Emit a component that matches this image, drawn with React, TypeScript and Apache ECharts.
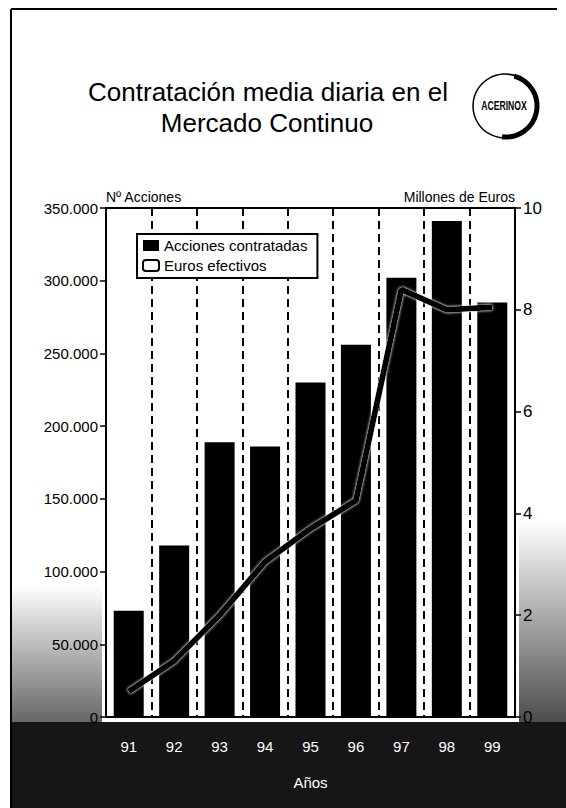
import React, { useEffect, useRef } from "react";
import * as echarts from "echarts";

const years = ["91", "92", "93", "94", "95", "96", "97", "98", "99"];
const accionesContratadas = [73000, 118000, 189000, 186000, 230000, 256000, 302000, 341000, 285000];
const eurosEfectivos = [0.5, 1.1, 2.0, 3.05, 3.7, 4.25, 8.4, 8.0, 8.05];
const leftMax = 350000;
const leftStep = 50000;
const rightMax = 10;
const rightStep = 2;
const titleLines = ["Contratación media diaria en el", "Mercado Continuo"];
const logoText = "ACERINOX";

const FONT = "'Liberation Sans', Arial, Helvetica, sans-serif";

function fmtThousands(v: number): string {
  if (v === 0) return "0";
  return String(Math.round(v)).replace(/\B(?=(\d{3})+(?!\d))/g, ".");
}

export default function App() {
  const ref = useRef<HTMLDivElement>(null);
  useEffect(() => {
    if (!ref.current) return;
    const chart = echarts.init(ref.current, undefined, { renderer: "svg" });
    const option: any = {
      animation: false,
      backgroundColor: "transparent",
      textStyle: { fontFamily: FONT },
      graphic: [
        {
          type: "rect", z: -10, silent: true,
          shape: { x: 12, y: 722, width: 554, height: 86 },
          style: { fill: "#161616" },
        },
        {
          type: "rect", z: -10, silent: true,
          shape: { x: 12, y: 585, width: 90, height: 137 },
          style: {
            fill: new echarts.graphic.LinearGradient(0, 0, 0, 1, [
              { offset: 0, color: "rgba(0,0,0,0)" },
              { offset: 1, color: "rgba(0,0,0,0.6)" },
            ]),
          },
        },
        {
          type: "rect", z: -10, silent: true,
          shape: { x: 519, y: 520, width: 47, height: 202 },
          style: {
            fill: new echarts.graphic.LinearGradient(0, 0, 0, 1, [
              { offset: 0, color: "rgba(0,0,0,0)" },
              { offset: 1, color: "rgba(0,0,0,0.7)" },
            ]),
          },
        },
        { type: "line", silent: true, shape: { x1: 11, y1: 9, x2: 557, y2: 9 }, style: { stroke: "#000", lineWidth: 2 } },
        { type: "line", silent: true, shape: { x1: 11, y1: 9, x2: 11, y2: 808 }, style: { stroke: "#000", lineWidth: 2 } },
        {
          type: "text", x: 268, y: 92,
          style: { text: titleLines[0], fill: "#000", font: `26px ${FONT}`, textAlign: "center", textVerticalAlign: "middle" },
        },
        {
          type: "text", x: 267, y: 123,
          style: { text: titleLines[1], fill: "#000", font: `26px ${FONT}`, textAlign: "center", textVerticalAlign: "middle" },
        },
        { type: "circle", silent: true, shape: { cx: 505, cy: 106, r: 32 }, style: { fill: "none", stroke: "#000", lineWidth: 1.5 } },
        {
          type: "arc", silent: true,
          shape: { cx: 506, cy: 106, r: 31, startAngle: -1.3, endAngle: 1.7, clockwise: true },
          style: { stroke: "#000", lineWidth: 5, fill: "none" },
        },
        {
          type: "text", x: 504, y: 106, scaleX: 0.72,
          style: { text: logoText, fill: "#000", font: `bold 12px ${FONT}`, textAlign: "center", textVerticalAlign: "middle" },
        },
      ],
      legend: {
        orient: "vertical",
        left: 137,
        top: 234,
        backgroundColor: "#fff",
        borderColor: "#000",
        borderWidth: 2,
        borderRadius: 0,
        padding: [4, 10, 5, 5],
        itemGap: 5,
        itemWidth: 16,
        itemHeight: 11,
        textStyle: { fontSize: 15, color: "#000", fontFamily: FONT },
        data: [
          { name: "Acciones contratadas", icon: "rect", itemStyle: { color: "#000" } },
          { name: "Euros efectivos", icon: "roundRect", itemStyle: { color: "#fff", borderColor: "#000", borderWidth: 2 } },
        ],
      },
      grid: { left: 106, right: 51, top: 208, bottom: 91, show: true, borderColor: "#000", borderWidth: 2, backgroundColor: "transparent" },
      xAxis: {
        type: "category",
        data: years,
        boundaryGap: true,
        axisLine: { lineStyle: { color: "#000", width: 2 } },
        axisTick: { show: false },
        axisLabel: { color: "#fff", fontSize: 15, margin: 22, fontFamily: FONT },
        splitLine: { show: true, interval: 0, lineStyle: { color: "#000", width: 2, type: [8, 5] } },
        name: "Años",
        nameLocation: "middle",
        nameGap: 58,
        nameTextStyle: { color: "#fff", fontSize: 15, fontFamily: FONT },
      },
      yAxis: [
        {
          type: "value",
          position: "left",
          min: 0,
          max: leftMax,
          interval: leftStep,
          axisLine: { show: true, lineStyle: { color: "#000", width: 2 } },
          axisTick: { show: true, length: 6, lineStyle: { color: "#000", width: 1.5 } },
          axisLabel: { color: "#000", fontSize: 15, margin: 8, fontFamily: FONT, formatter: (v: number) => fmtThousands(v) },
          splitLine: { show: false },
          name: "Nº Acciones",
          nameLocation: "end",
          nameGap: 4,
          nameTextStyle: { color: "#000", fontSize: 14, align: "left", fontFamily: FONT },
        },
        {
          type: "value",
          position: "right",
          min: 0,
          max: rightMax,
          interval: rightStep,
          axisLine: { show: true, lineStyle: { color: "#000", width: 2 } },
          axisTick: { show: true, length: 6, lineStyle: { color: "#000", width: 1.5 } },
          axisLabel: { color: "#000", fontSize: 17, margin: 8, fontFamily: FONT },
          splitLine: { show: false },
          name: "Millones de Euros",
          nameLocation: "end",
          nameGap: 4,
          nameTextStyle: { color: "#000", fontSize: 14, align: "right", fontFamily: FONT },
        },
      ],
      series: [
        {
          name: "Acciones contratadas",
          type: "bar",
          z: 2,
          data: accionesContratadas,
          barWidth: 30,
          itemStyle: { color: "#000" },
        },
        {
          name: "Euros efectivos",
          type: "line",
          z: 4,
          yAxisIndex: 1,
          data: eurosEfectivos,
          symbol: "none",
          lineStyle: { color: "#000", width: 6, shadowColor: "#fff", shadowBlur: 3 },
          itemStyle: { color: "#000" },
        },
      ],
    };
    chart.setOption(option);
    return () => chart.dispose();
  }, []);
  return <div ref={ref} style={{ position: "absolute", left: 0, top: 0, width: 566, height: 808 }} />;
}
